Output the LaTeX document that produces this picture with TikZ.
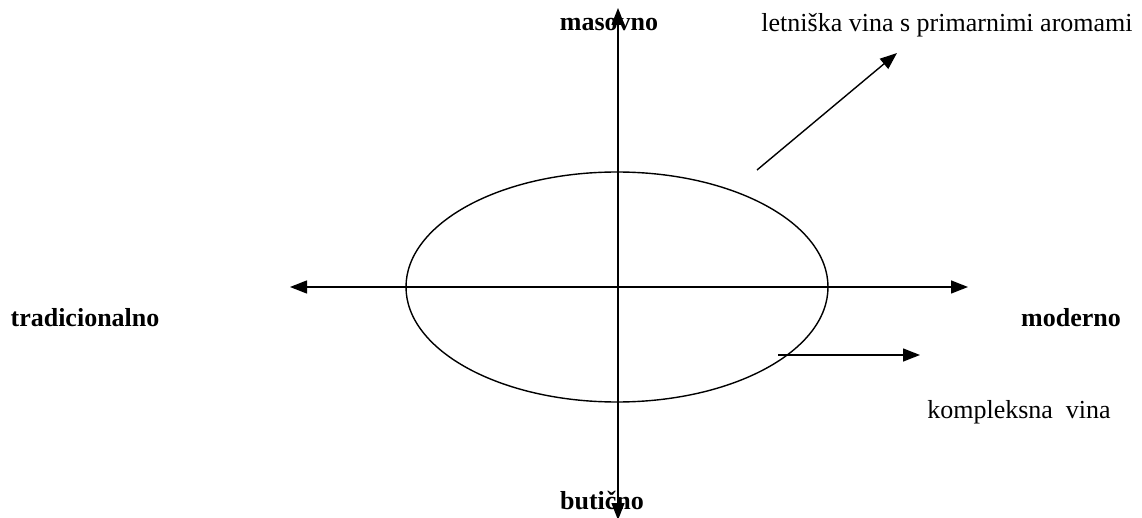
\documentclass[tikz,border=0pt]{standalone}
\usepackage{fontspec}
\setmainfont{Liberation Serif}
\usepackage{tikz}
\usetikzlibrary{arrows.meta,shapes.geometric}

\begin{document}
\begin{tikzpicture}[
    x=1pt, y=-1pt,
    axislabel/.style={font=\fontsize{26}{30}\selectfont\bfseries, inner sep=0pt},
    winelabel/.style={font=\fontsize{26}{30}\selectfont, inner sep=0pt},
    axis/.style={{Triangle[length=17pt,width=13pt]}-{Triangle[length=17pt,width=13pt]}, line width=1.4pt},
    pointer/.style={-{Triangle[length=17pt,width=13pt]}, line width=1.4pt},
]
    \useasboundingbox (0,0) rectangle (1142,518);

    % axes
    \coordinate (top) at (618,8);
    \coordinate (bottom) at (618,520);
    \coordinate (left) at (290,287);
    \coordinate (right) at (968,287);
    \draw[axis] (bottom) -- (top);
    \draw[axis] (left) -- (right);

    % wine style oval
    \node[draw, ellipse, line width=1.4pt, minimum width=422pt, minimum height=230pt, inner sep=0pt] (oval) at (617,287) {};

    \node[axislabel] (masovno) at (609,25) {masovno};
    \node[axislabel] (butic) at (602,500) {butično};
    \node[axislabel] (trad) at (85,318) {tradicionalno};
    \node[axislabel] (modern) at (1071,318) {moderno};

    \node[winelabel] (summer) at (947,25) {letniška vina s primarnimi aromami};
    \node[winelabel] (complex) at (1019,412) {kompleksna\ \ vina};

    \coordinate (summerstart) at (757,170);
    \coordinate (summerend) at (897,53);
    \coordinate (complexstart) at (778,355);
    \coordinate (complexend) at (920,355);
    \draw[pointer] (summerstart) -- (summerend);
    \draw[pointer] (complexstart) -- (complexend);
\end{tikzpicture}
\end{document}
